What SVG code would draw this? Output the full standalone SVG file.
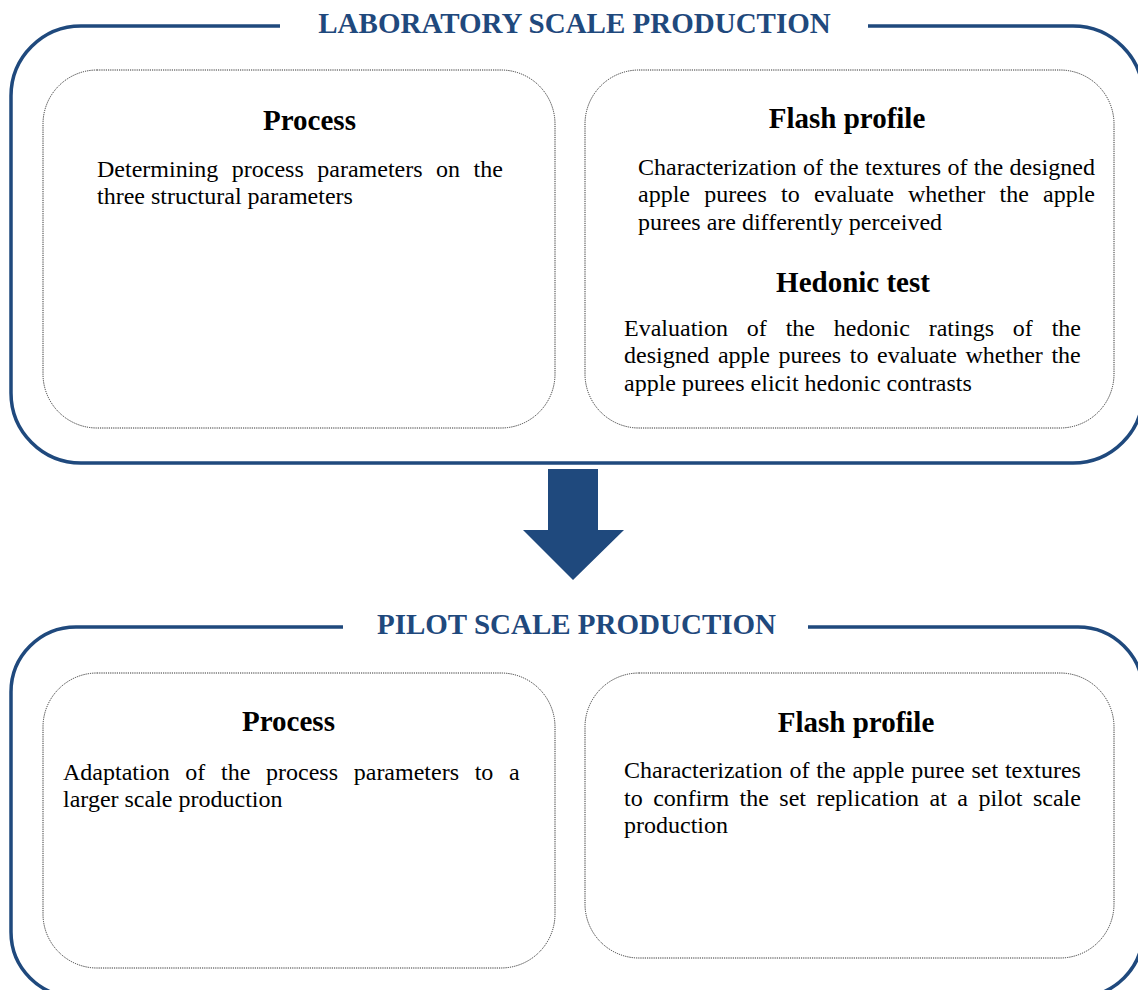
<svg xmlns="http://www.w3.org/2000/svg" width="1138" height="990" viewBox="0 0 1138 990">
<style>
.outer{fill:none;stroke:#1F497D;stroke-width:3.5}
.inner{fill:none;stroke:#333;stroke-width:1;stroke-dasharray:1.2 1}
.title{font-family:"Liberation Serif","Times New Roman",serif;font-weight:bold;font-size:29px;fill:#1F497D;text-anchor:middle}
.head{font-family:"Liberation Serif","Times New Roman",serif;font-weight:bold;font-size:29px;fill:#000;text-anchor:middle}
.body{font-family:"Liberation Serif","Times New Roman",serif;font-size:24px;fill:#000}
.arrow{fill:#1F497D}
</style>
<rect width="1138" height="990" fill="#fff"/>
<g id="lab-scale">
<path class="outer" d="M280,26 H81 A70,70 0 0 0 11,96 V393 A70,70 0 0 0 81,463 H1073 A70,70 0 0 0 1143,393 V96 A70,70 0 0 0 1073,26 H868"/>
<text class="title" x="574.5" y="33">LABORATORY SCALE PRODUCTION</text>
</g>
<g id="lab-process">
<rect class="inner" x="43" y="70" width="512" height="358" rx="54"/>
<text class="head" x="309.5" y="130">Process</text>
<text class="body" x="97" y="177" word-spacing="7.5">Determining process parameters on the</text>
<text class="body" x="97" y="204">three structural parameters</text>
</g>
<g id="lab-sensory">
<rect class="inner" x="585" y="70" width="529" height="358" rx="54"/>
<text class="head" x="847" y="128">Flash profile</text>
<text class="body" x="638" y="174.5" word-spacing="0.4">Characterization of the textures of the designed</text>
<text class="body" x="638" y="202" word-spacing="8.2">apple purees to evaluate whether the apple</text>
<text class="body" x="638" y="229.5">purees are differently perceived</text>
<text class="head" x="853" y="292">Hedonic test</text>
<text class="body" x="624" y="335.5" word-spacing="12.85">Evaluation of the hedonic ratings of the</text>
<text class="body" x="624" y="363" word-spacing="2.6">designed apple purees to evaluate whether the</text>
<text class="body" x="624" y="390.5">apple purees elicit hedonic contrasts</text>
</g>
<g id="pilot-scale">
<path class="outer" d="M343,627 H76 A65,65 0 0 0 11,692 V932 A65,65 0 0 0 76,997 H1078 A65,65 0 0 0 1143,932 V692 A65,65 0 0 0 1078,627 H808"/>
<text class="title" x="576.5" y="634">PILOT SCALE PRODUCTION</text>
</g>
<g id="pilot-process">
<rect class="inner" x="43" y="673" width="512" height="295" rx="54"/>
<text class="head" x="288.5" y="731">Process</text>
<text class="body" x="63" y="780" word-spacing="9.7">Adaptation of the process parameters to a</text>
<text class="body" x="63" y="807">larger scale production</text>
</g>
<g id="pilot-sensory">
<rect class="inner" x="585" y="673" width="529" height="285" rx="54"/>
<text class="head" x="856" y="732">Flash profile</text>
<text class="body" x="624" y="778" word-spacing="0.85">Characterization of the apple puree set textures</text>
<text class="body" x="624" y="805.5" word-spacing="4.46">to confirm the set replication at a pilot scale</text>
<text class="body" x="624" y="833">production</text>
</g>
<g id="connectors">
<polygon class="arrow" points="548,469 598,469 598,530 624,530 573,580 523,530 548,530"/>
</g>
</svg>
